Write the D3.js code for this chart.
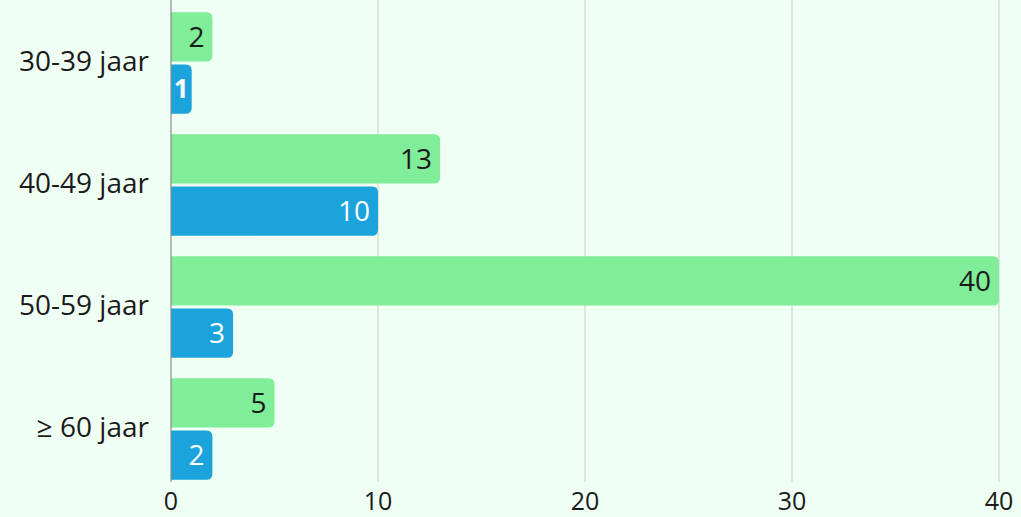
<!DOCTYPE html>
<html>
<head>
<meta charset="utf-8">
<script src="https://cdn.jsdelivr.net/npm/d3@7"></script>
<style>
  html, body { margin: 0; padding: 0; background: #f0fff4; }
  svg { display: block; font-family: "Open Sans", Lato, sans-serif; }
</style>
</head>
<body>
<div id="chart"></div>
<script>
// age groups and the two series
var categories = ['30-39 jaar', '40-49 jaar', '50-59 jaar', '\u2265 60 jaar'];
var seriesNames = ['groen', 'blauw'];
var greenValues = [2, 13, 40, 5];
var blueValues = [1, 10, 3, 2];
var xTicks = [0, 10, 20, 30, 40];

(function() {
    var width = 1021;
    var height = 517;
    var margin = {top: 2, right: 22, bottom: 27, left: 171};

    var data = [];
    categories.forEach(function(c, i) {
        data.push({cat: c, series: 'groen', value: greenValues[i]});
        data.push({cat: c, series: 'blauw', value: blueValues[i]});
    });

    var svg = d3.select('#chart')
        .append('svg')
        .attr('width', width)
        .attr('height', height);

    // scales
    var x = d3.scaleLinear()
        .domain([0, 40])
        .range([margin.left, width - margin.right]);

    var y0 = d3.scaleBand()
        .domain(categories)
        .range([margin.top, height - margin.bottom])
        .paddingInner(0.17)
        .paddingOuter(0.085);

    var y1 = d3.scaleBand()
        .domain(seriesNames)
        .range([0, y0.bandwidth()])
        .paddingInner(0.06);

    var color = d3.scaleOrdinal()
        .domain(seriesNames)
        .range(['#80ed99', '#1ba3db']);

    // grid lines
    svg.append('g')
        .selectAll('line')
        .data(xTicks.slice(1))
        .join('line')
            .attr('x1', d => x(d))
            .attr('x2', d => x(d))
            .attr('y1', 0)
            .attr('y2', height - margin.bottom - 8)
            .attr('stroke', '#c4cec8')
            .attr('stroke-width', 1);

    // bars with rounded right end
    var r = 6;
    function barPath(d) {
        var x0 = x(0), x1 = x(d.value);
        var top = y0(d.cat) + y1(d.series);
        var h = y1.bandwidth();
        var rr = Math.min(r, (x1 - x0) / 2, h / 2);
        return 'M' + x0 + ',' + top +
            'H' + (x1 - rr) +
            'Q' + x1 + ',' + top + ' ' + x1 + ',' + (top + rr) +
            'V' + (top + h - rr) +
            'Q' + x1 + ',' + (top + h) + ' ' + (x1 - rr) + ',' + (top + h) +
            'H' + x0 + 'Z';
    }

    svg.append('g')
        .selectAll('path')
        .data(data)
        .join('path')
            .attr('d', barPath)
            .attr('fill', d => color(d.series));

    // value labels inside bars
    svg.append('g')
        .selectAll('text')
        .data(data)
        .join('text')
            .attr('x', d => x(d.value) - (d.value < 2 ? 3 : 8))
            .attr('y', d => y0(d.cat) + y1(d.series) + y1.bandwidth() / 2)
            .attr('dy', '0.36em')
            .attr('text-anchor', 'end')
            .attr('font-size', d => d.value < 2 ? '26px' : '28px')
            .attr('font-weight', d => d.value < 2 ? 'bold' : 'normal')
            .attr('fill', d => d.series === 'groen' ? '#1a1a1a' : '#ffffff')
            .text(d => d.value);

    // left axis line
    svg.append('line')
        .attr('x1', x(0))
        .attr('x2', x(0))
        .attr('y1', 0)
        .attr('y2', height - margin.bottom - 8)
        .attr('stroke', '#8a8a8a')
        .attr('stroke-width', 1.2);

    // category labels
    svg.append('g')
        .selectAll('text')
        .data(categories)
        .join('text')
            .attr('x', x(0) - 22)
            .attr('y', d => y0(d) + y0.bandwidth() / 2 - 2)
            .attr('dy', '0.36em')
            .attr('text-anchor', 'end')
            .attr('font-size', '28px')
            .attr('fill', '#1a1a1a')
            .text(d => d);

    // x tick labels
    svg.append('g')
        .selectAll('text')
        .data(xTicks)
        .join('text')
            .attr('x', d => x(d))
            .attr('y', height - 7)
            .attr('text-anchor', 'middle')
            .attr('font-size', '25px')
            .attr('fill', '#1a1a1a')
            .text(d => d);
})();
</script>
</body>
</html>
